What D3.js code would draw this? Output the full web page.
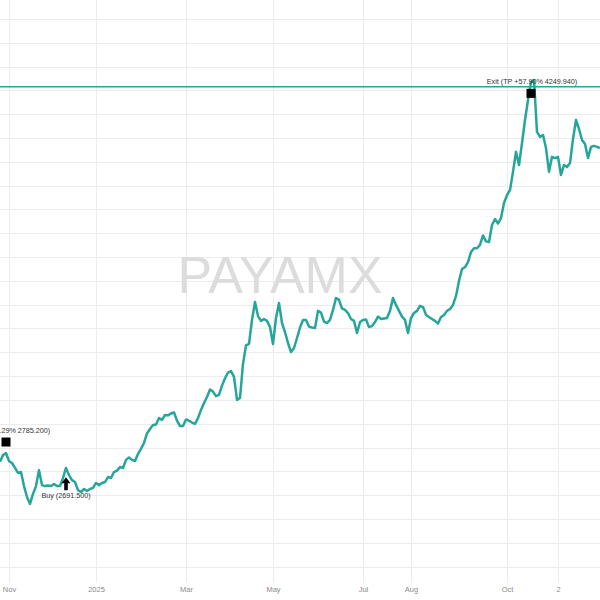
<!DOCTYPE html>
<html>
<head>
<meta charset="utf-8">
<script src="https://cdn.jsdelivr.net/npm/d3@7/dist/d3.min.js"></script>
<style>
  html, body { margin: 0; padding: 0; background: #ffffff; }
  svg { display: block; }
</style>
</head>
<body>
<svg id="chart" width="600" height="600"></svg>
<script>
// ---- Data (daily closes, one per bar) ----
const closes = [
  2740, 2768, 2777, 2743, 2735, 2714, 2693, 2697, 2638, 2592,
  2563, 2605, 2638, 2705, 2642, 2638, 2640, 2638, 2647, 2638,
  2638, 2672, 2714, 2684, 2663, 2655, 2621, 2613, 2626, 2617,
  2626, 2630, 2651, 2642, 2651, 2655, 2676, 2672, 2697, 2703,
  2718, 2714, 2748, 2758, 2748, 2743, 2773, 2794, 2819, 2859,
  2878, 2895, 2897, 2924, 2916, 2937, 2935, 2943, 2947, 2913,
  2890, 2890, 2918, 2913, 2905, 2899, 2924, 2958, 2987, 3012,
  3044, 3035, 3016, 3021, 3060, 3091, 3115, 3121, 3097, 3000,
  3008, 3151, 3229, 3235, 3336, 3411, 3352, 3332, 3340, 3332,
  3306, 3235, 3344, 3407, 3323, 3285, 3239, 3201, 3218, 3260,
  3304, 3336, 3336, 3308, 3304, 3302, 3374, 3367, 3329, 3323,
  3336, 3378, 3428, 3420, 3384, 3378, 3365, 3340, 3332, 3281,
  3327, 3336, 3338, 3306, 3310, 3327, 3350, 3340, 3342, 3344,
  3374, 3428, 3399, 3374, 3350, 3336, 3281, 3344, 3365, 3374,
  3395, 3390, 3357, 3348, 3340, 3332, 3321, 3348, 3357, 3374,
  3382, 3399, 3437, 3500, 3550, 3558, 3579, 3621, 3637, 3637,
  3651, 3691, 3666, 3663, 3735, 3760, 3741, 3764, 3827, 3860,
  3882, 3958, 4042, 3987, 4079, 4176, 4260, 4336, 4344, 4126,
  4105, 4113, 4058, 3958, 4021, 4016, 4021, 3945, 3987, 3979,
  3995, 4096, 4176, 4138, 4092, 4075, 4016, 4063, 4067, 4063,
  4058
];

// x-axis tick labels (bar index positions)
const tickIndex  = [3, 32, 62, 91, 121, 137, 169, 186];
const tickLabels = ["Nov", "2025", "Mar", "May", "Jul", "Aug", "Oct", "2"];

// horizontal price gridline values
const gridPrices = d3.range(2300, 4700, 100);

// horizontal level line
const levelLine = 4316;

// trade markers
const exitIndex  = [2, 177];
const exitPrice  = [2785.2, 4249.94];
const exitLabels = ["Exit (TP +3.29% 2785.200)", "Exit (TP +57.90% 4249.940)"];
const buyIndex   = [22];
const buyPrice   = [2691.5];
const buyLabels  = ["Buy (2691.500)"];

const watermark = "PAYAMX";

// ---- Drawing ----
const W = 600, H = 600, plotBottom = 582;
const svg = d3.select("#chart");

const x = d3.scaleLinear().domain([0, 200]).range([0, 600]);
const y = d3.scaleLinear().domain([2235, 4680]).range([plotBottom, 0]);

const teal = "#26a69a";

// gridlines
const grid = svg.append("g");
grid.selectAll("line.h").data(gridPrices).join("line")
  .attr("x1", 0).attr("x2", W)
  .attr("y1", d => Math.round(y(d)) + 0.5).attr("y2", d => Math.round(y(d)) + 0.5)
  .attr("stroke", "#ececef").attr("stroke-width", 1);
grid.selectAll("line.v").data(tickIndex).join("line")
  .attr("x1", d => Math.round(x(d)) + 0.5).attr("x2", d => Math.round(x(d)) + 0.5)
  .attr("y1", 0).attr("y2", plotBottom)
  .attr("stroke", "#ececef").attr("stroke-width", 1);

// x axis labels
const xAxis = d3.axisBottom(x).tickValues(tickIndex)
  .tickFormat((d, i) => tickLabels[i]).tickSize(0).tickPadding(5);
const gx = svg.append("g").attr("transform", `translate(0,${plotBottom})`).call(xAxis);
gx.select(".domain").remove();
gx.selectAll("text")
  .attr("fill", "#8a8a8a")
  .style("font-family", "'Liberation Sans', Arial, sans-serif")
  .style("font-size", "7.5px");

// watermark
svg.append("text")
  .attr("x", 280).attr("y", 293)
  .attr("text-anchor", "middle")
  .style("font-family", "'Liberation Sans', Arial, sans-serif")
  .style("font-size", "52px")
  .attr("fill", "#dcdcdc")
  .text(watermark);

// level line
svg.append("line")
  .attr("x1", 0).attr("x2", W)
  .attr("y1", y(levelLine)).attr("y2", y(levelLine))
  .attr("stroke", teal).attr("stroke-width", 1.5);

// price line
const line = d3.line().x((d, i) => x(i)).y(d => y(d)).curve(d3.curveLinear);
svg.append("path")
  .datum(closes)
  .attr("d", line)
  .attr("fill", "none")
  .attr("stroke", teal)
  .attr("stroke-width", 2.5)
  .attr("stroke-linejoin", "round");

const labelFont = "'Liberation Sans', Arial, sans-serif";

// exit markers (square above fill price)
exitIndex.forEach((idx, i) => {
  const cx = x(idx), cy = y(exitPrice[i]) - 9;
  svg.append("rect")
    .attr("x", cx - 4.5).attr("y", cy - 4.5)
    .attr("width", 9).attr("height", 9)
    .attr("fill", "#000");
  svg.append("text")
    .attr("x", cx + 1).attr("y", cy - 9)
    .attr("text-anchor", "middle")
    .style("font-family", labelFont)
    .style("font-size", "7.2px")
    .attr("fill", "#333")
    .text(exitLabels[i]);
});

// buy markers (arrow below fill price)
buyIndex.forEach((idx, i) => {
  const cx = x(idx), top = y(buyPrice[i]) + 4;
  const path = d3.path();
  path.moveTo(cx, top);
  path.lineTo(cx + 4.5, top + 6);
  path.lineTo(cx + 1.8, top + 6);
  path.lineTo(cx + 1.8, top + 13);
  path.lineTo(cx - 1.8, top + 13);
  path.lineTo(cx - 1.8, top + 6);
  path.lineTo(cx - 4.5, top + 6);
  path.closePath();
  svg.append("path").attr("d", path.toString()).attr("fill", "#000");
  svg.append("text")
    .attr("x", cx).attr("y", top + 21)
    .attr("text-anchor", "middle")
    .style("font-family", labelFont)
    .style("font-size", "7.2px")
    .attr("fill", "#333")
    .text(buyLabels[i]);
});
</script>
</body>
</html>
